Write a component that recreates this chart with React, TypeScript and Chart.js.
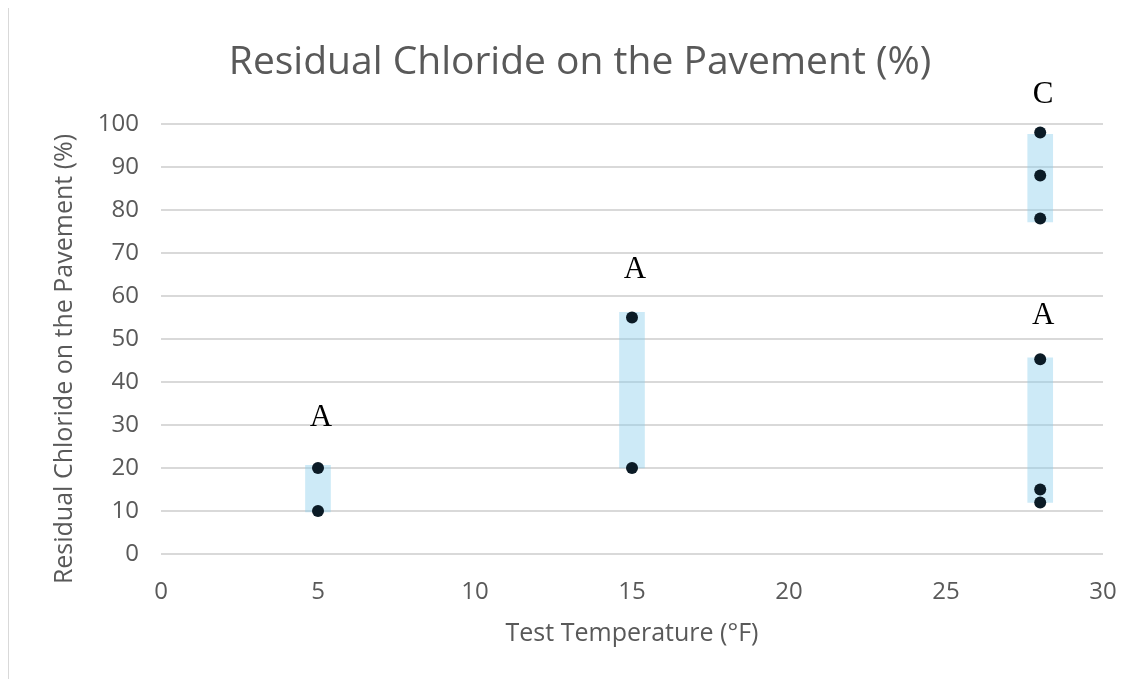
import React, { useEffect, useRef } from "react";
import { Chart, registerables } from "chart.js";

Chart.register(...registerables);

// ---- data ----
const barTemps = [5, 15, 28, 28];
const barLow = [9.8, 20, 77.2, 12];
const barHigh = [20.6, 56.2, 97.6, 45.6];

const pointTemps = [5, 5, 15, 15, 28, 28, 28, 28, 28, 28];
const pointValues = [20, 10, 55, 20, 98, 88, 78, 45.3, 15, 12];

const letterTemps = [5, 15, 28, 28];
const letterValues = [31.6, 66, 106.7, 55.3];
const letterTexts = ["A", "A", "C", "A"];

const xTicks = [0, 5, 10, 15, 20, 25, 30];
const yTicks = [0, 10, 20, 30, 40, 50, 60, 70, 80, 90, 100];

const chartTitle = "Residual Chloride on the Pavement (%)";
const xTitle = "Test Temperature (°F)";
const yTitle = "Residual Chloride on the Pavement (%)";

const FONT = "'Open Sans', sans-serif";
const TEXT = "#595959";

const W = 1139;
const H = 671;

export default function App() {
  const ref = useRef<HTMLCanvasElement | null>(null);

  useEffect(() => {
    const canvas = ref.current;
    if (!canvas) return;

    const textPlugin = {
      id: "texts",
      afterDraw(chart: any) {
        const ctx = chart.ctx;
        const xs = chart.scales.x;
        const ys = chart.scales.y;
        ctx.save();
        ctx.fillStyle = TEXT;
        ctx.textAlign = "center";
        ctx.textBaseline = "middle";
        ctx.font = `39px ${FONT}`;
        ctx.fillText(chartTitle, 571, 55);

        ctx.font = `25px ${FONT}`;
        ctx.fillText(xTitle, (chart.chartArea.left + chart.chartArea.right) / 2, 626);

        ctx.save();
        ctx.translate(56, 351);
        ctx.rotate(-Math.PI / 2);
        ctx.fillText(yTitle, 0, 0);
        ctx.restore();

        ctx.fillStyle = "#000000";
        ctx.font = `31px 'Liberation Serif', 'Times New Roman', serif`;
        for (let i = 0; i < letterTexts.length; i++) {
          const px = xs.getPixelForValue(letterTemps[i]) + 3;
          const py = ys.getPixelForValue(letterValues[i]);
          ctx.fillText(letterTexts[i], px, py);
        }
        ctx.restore();
      },
    };

    const chart = new Chart(canvas, {
      type: "scatter",
      data: {
        datasets: [
          {
            type: "bar",
            data: barTemps.map((t, i) => ({ x: t, y: [barLow[i], barHigh[i]] })) as any,
            backgroundColor: "rgba(135, 206, 235, 0.42)",
            borderWidth: 0,
            barThickness: 25,
            order: 2,
          } as any,
          {
            type: "scatter",
            data: pointTemps.map((t, i) => ({ x: t, y: pointValues[i] })),
            backgroundColor: "#0b1b26",
            borderWidth: 0,
            pointRadius: 6,
            order: 1,
          },
        ],
      },
      options: {
        animation: false,
        responsive: false,
        layout: { padding: { left: 0, right: 45, top: 116, bottom: 0 } },
        plugins: {
          legend: { display: false },
          title: { display: false },
          tooltip: { enabled: false },
        },
        scales: {
          x: {
            type: "linear",
            min: 0,
            max: 30,
            offset: false,
            afterBuildTicks: (scale: any) => {
              scale.ticks = xTicks.map((v) => ({ value: v }));
            },
            afterFit: (scale: any) => {
              scale.height = 125;
            },
            grid: { display: false, drawTicks: false },
            border: { display: false },
            ticks: {
              color: TEXT,
              font: { family: FONT, size: 24 },
              padding: 24,
              maxRotation: 0,
            },
          },
          y: {
            type: "linear",
            min: 0,
            max: 100,
            afterBuildTicks: (scale: any) => {
              scale.ticks = yTicks.map((v) => ({ value: v }));
            },
            afterFit: (scale: any) => {
              scale.width = 152;
            },
            grid: { color: "#d9d9d9", lineWidth: 2, drawTicks: false },
            border: { display: false },
            ticks: {
              color: TEXT,
              font: { family: FONT, size: 24 },
              padding: 22,
            },
          },
        },
      } as any,
      plugins: [textPlugin],
    });

    return () => chart.destroy();
  }, []);

  return (
    <div
      style={{
        position: "relative",
        boxSizing: "border-box",
        width: 1141,
        height: 673,
        marginTop: -2,
        marginLeft: -1,
        borderLeft: "2px solid #d9d9d9",
        borderTop: "2px solid #d9d9d9",
        overflow: "hidden",
      }}
    >
      <canvas ref={ref} width={W} height={H} style={{ display: "block", width: W, height: H }} />
    </div>
  );
}
